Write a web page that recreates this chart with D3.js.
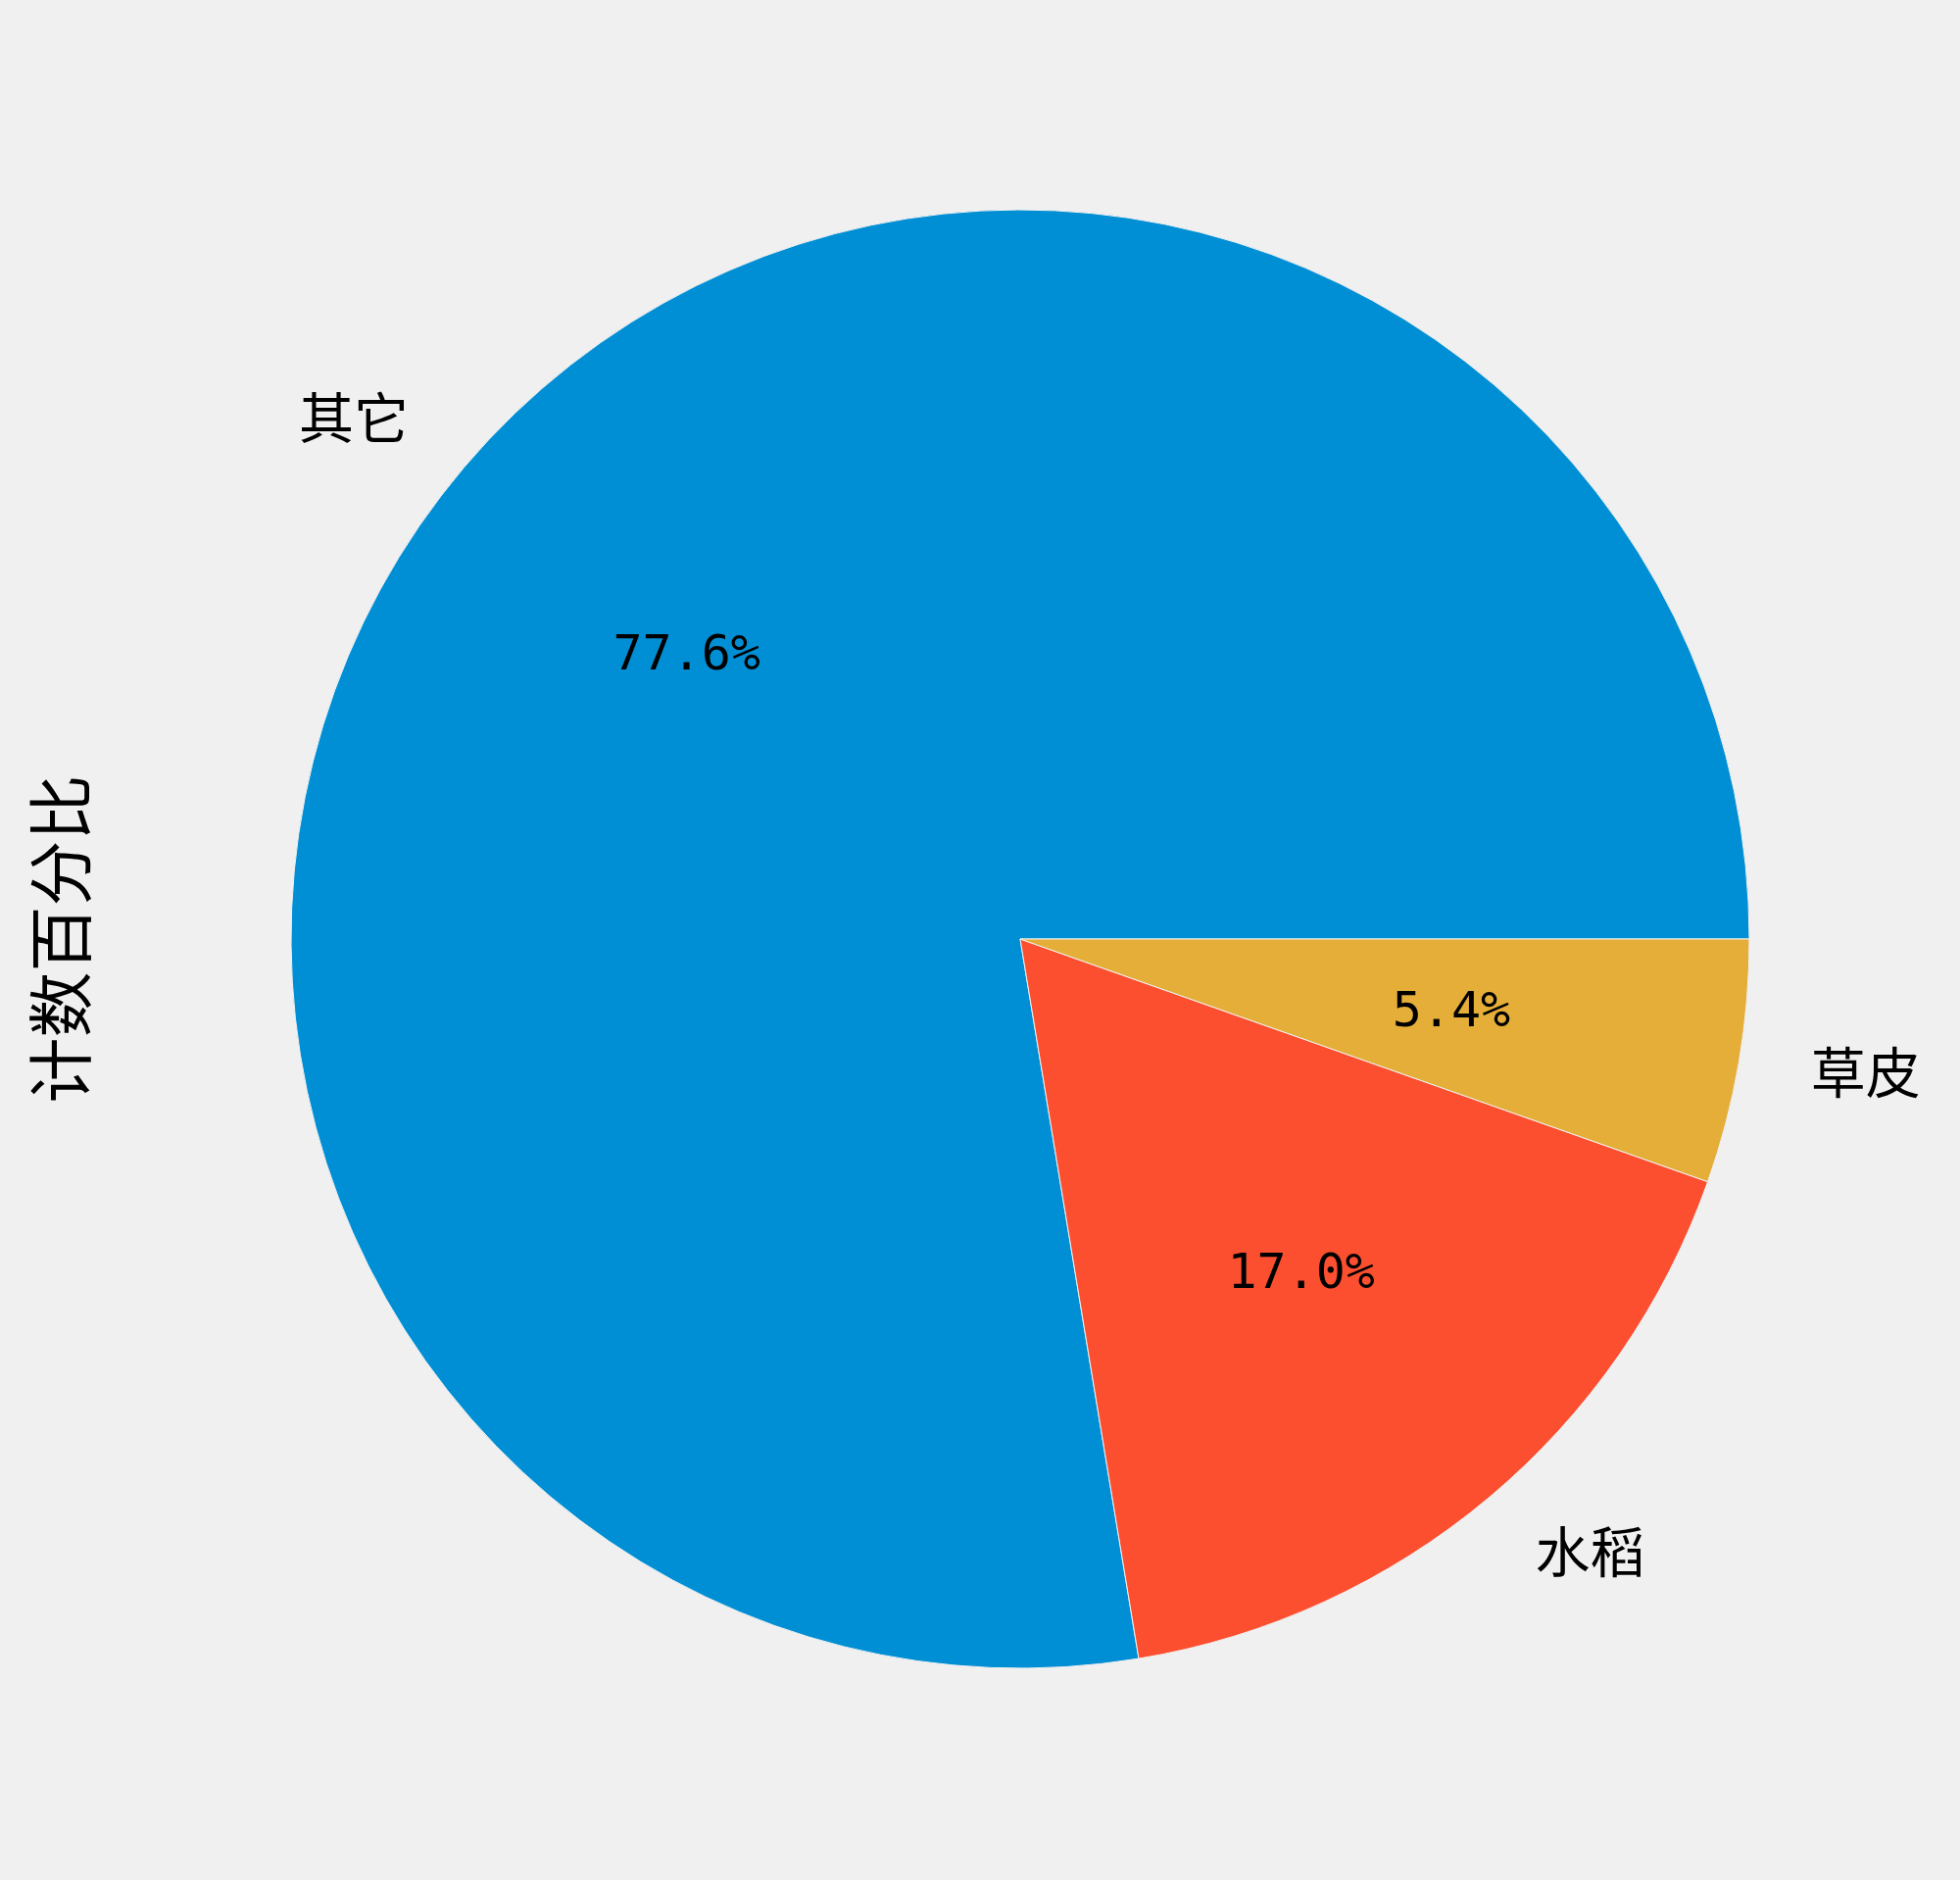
<!DOCTYPE html>
<html lang="zh">
<head>
  <meta charset="UTF-8">
  <title>计数百分比</title>
  <script src="https://d3js.org/d3.v7.min.js"></script>
  <style>
    body { margin: 0; background: #f0f0f0; }
  </style>
</head>
<body>
<div class="main"></div>
<script>
  // chart data
  const categories = ["其它", "水稻", "草皮"];
  const shares = [77.6, 17.0, 5.4];
  const colors = ["#008fd5", "#fc4f30", "#e5ae38"];
  const axisLabel = "计数百分比";

  let width = 2000, height = 1918;
  let cx = 1041, cy = 958, radius = 744;

  let svg = d3.select(".main")
    .append("svg")
    .attr("width", width)
    .attr("height", height)
    .style("display", "block")
    .style("background", "#f0f0f0");

  let color = d3.scaleOrdinal().domain(categories).range(colors);

  // matplotlib style: start at 3 o'clock, go counterclockwise
  let pie = d3.pie()
    .value(d => d.value)
    .sort(null)
    .startAngle(Math.PI / 2)
    .endAngle(Math.PI / 2 - 2 * Math.PI);

  let data = categories.map((c, i) => ({ name: c, value: shares[i] }));
  let arcs = pie(data);

  let arc = d3.arc().innerRadius(0).outerRadius(radius);
  let pctArc = d3.arc().innerRadius(radius * 0.6).outerRadius(radius * 0.6);
  let labelArc = d3.arc().innerRadius(radius * 1.1).outerRadius(radius * 1.1);

  let g = svg.append("g").attr("transform", `translate(${cx},${cy})`);

  g.selectAll("path")
    .data(arcs)
    .join("path")
    .attr("d", arc)
    .style("fill", d => color(d.data.name))
    .style("stroke", "#f0f0f0")
    .style("stroke-width", 1);

  // percent texts inside wedges
  g.selectAll(".pct")
    .data(arcs)
    .join("text")
    .attr("class", "pct")
    .attr("x", d => pctArc.centroid(d)[0])
    .attr("y", d => pctArc.centroid(d)[1] - 3)
    .attr("text-anchor", "middle")
    .attr("dominant-baseline", "central")
    .style("font-family", "'DejaVu Sans Mono', monospace")
    .style("font-size", "50px")
    .style("fill", "#000")
    .text(d => d.data.value.toFixed(1) + "%");

  // category labels outside
  g.selectAll(".lbl")
    .data(arcs)
    .join("text")
    .attr("class", "lbl")
    .attr("x", d => labelArc.centroid(d)[0])
    .attr("y", d => labelArc.centroid(d)[1] - 6)
    .attr("text-anchor", d => labelArc.centroid(d)[0] < 0 ? "end" : "start")
    .attr("dominant-baseline", "central")
    .style("font-family", "'Noto Sans CJK SC', sans-serif")
    .style("font-size", "56px")
    .style("fill", "#000")
    .text(d => d.data.name);

  // y axis label
  svg.append("text")
    .attr("transform", `translate(57, ${cy}) rotate(-90)`)
    .attr("text-anchor", "middle")
    .attr("dominant-baseline", "central")
    .style("font-family", "'Noto Sans CJK SC', sans-serif")
    .style("font-size", "67px")
    .style("fill", "#000")
    .text(axisLabel);
</script>
</body>
</html>
